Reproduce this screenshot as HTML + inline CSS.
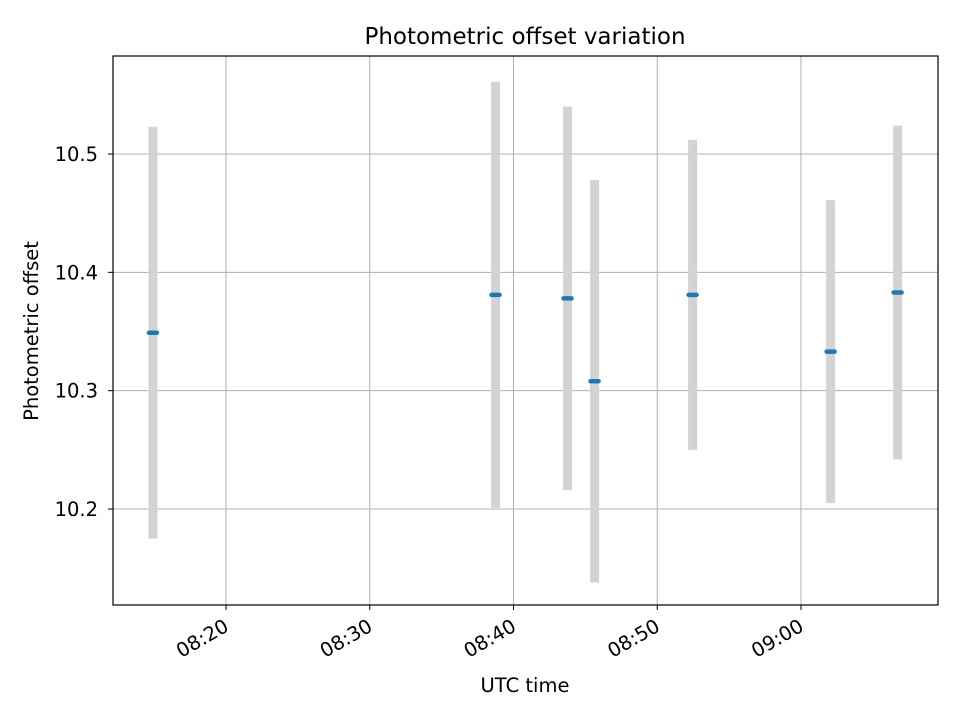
<!DOCTYPE html>
<html><head><meta charset="utf-8"><style>
body{margin:0;background:#fff}
svg text{font-family:"DejaVu Sans","Liberation Sans",sans-serif;fill:#000}
</style></head><body>
<svg id="chart" width="960" height="720">
<rect width="960" height="720" fill="#fff"/>
<g id="grid"></g>
<g id="series"></g>
<rect x="113" y="56" width="825" height="549" fill="none" stroke="#000" stroke-width="1.2"/>
<g id="axes"></g>
<text x="525" y="44" font-size="23" text-anchor="middle">Photometric offset variation</text>
<text x="525" y="692" font-size="19.5" text-anchor="middle">UTC time</text>
<text x="38" y="331" font-size="19.5" text-anchor="middle" transform="rotate(-90 38 331)">Photometric offset</text>
</svg>
<script>
// minutes after 08:00
const times=[14.92,38.75,43.76,45.64,52.46,62.06,66.72];
const offsets=[10.349,10.381,10.378,10.308,10.381,10.333,10.383];
const errors=[0.174,0.180,0.162,0.170,0.131,0.128,0.141];
const xTickMinutes=[20,30,40,50,60];
const xTickLabels=["08:20","08:30","08:40","08:50","09:00"];
const yTicks=[10.2,10.3,10.4,10.5];
const yTickLabels=["10.2","10.3","10.4","10.5"];
const L=113,R=938,T=56,B=605;
const xMin=12.14,xMax=69.53,yMin=10.1189,yMax=10.5828;
const X=m=>L+(m-xMin)/(xMax-xMin)*(R-L);
const Y=v=>B-(v-yMin)/(yMax-yMin)*(B-T);
const NS="http://www.w3.org/2000/svg";
function mk(tag,attrs,parent){const e=document.createElementNS(NS,tag);for(const k in attrs)e.setAttribute(k,attrs[k]);parent.appendChild(e);return e;}
const grid=document.getElementById('grid'),axes=document.getElementById('axes'),series=document.getElementById('series');
xTickMinutes.forEach((m,i)=>{const x=X(m);
 let g=mk('line',{x1:x,x2:x,y1:T,y2:B,stroke:'#b0b0b0','stroke-width':1},grid);
 
 
 let t=mk('line',{x1:x,x2:x,y1:B,y2:B+5,stroke:'#000','stroke-width':1},axes);
 
 
 let tx=mk('text',{x:x+4,y:B+25,'font-size':19.5,'text-anchor':'end',transform:`rotate(-30 ${x+4} ${B+25})`},axes);
 tx.textContent=xTickLabels[i];
 
 
});
yTicks.forEach((v,i)=>{const y=Y(v);
 let g=mk('line',{x1:L,x2:R,y1:y,y2:y,stroke:'#b0b0b0','stroke-width':1},grid);
 
 
 let t=mk('line',{x1:L-5,x2:L,y1:y,y2:y,stroke:'#000','stroke-width':1},axes);
 
 
 let tx=mk('text',{x:L-15,y:y+7,'font-size':19.5,'text-anchor':'end'},axes);
 tx.textContent=yTickLabels[i];
 
 
});
times.forEach((m,i)=>{const x=X(m);
 let e=mk('line',{x1:x,x2:x,y1:Y(offsets[i]+errors[i]),y2:Y(offsets[i]-errors[i]),stroke:'#d3d3d3','stroke-width':9},series);
 
 
 let p=mk('line',{x1:x-4,x2:x+4,y1:Y(offsets[i]),y2:Y(offsets[i]),stroke:'#1f77b4','stroke-width':4.5,'stroke-linecap':'round'},series);
 
 
});
</script>
</body></html>
